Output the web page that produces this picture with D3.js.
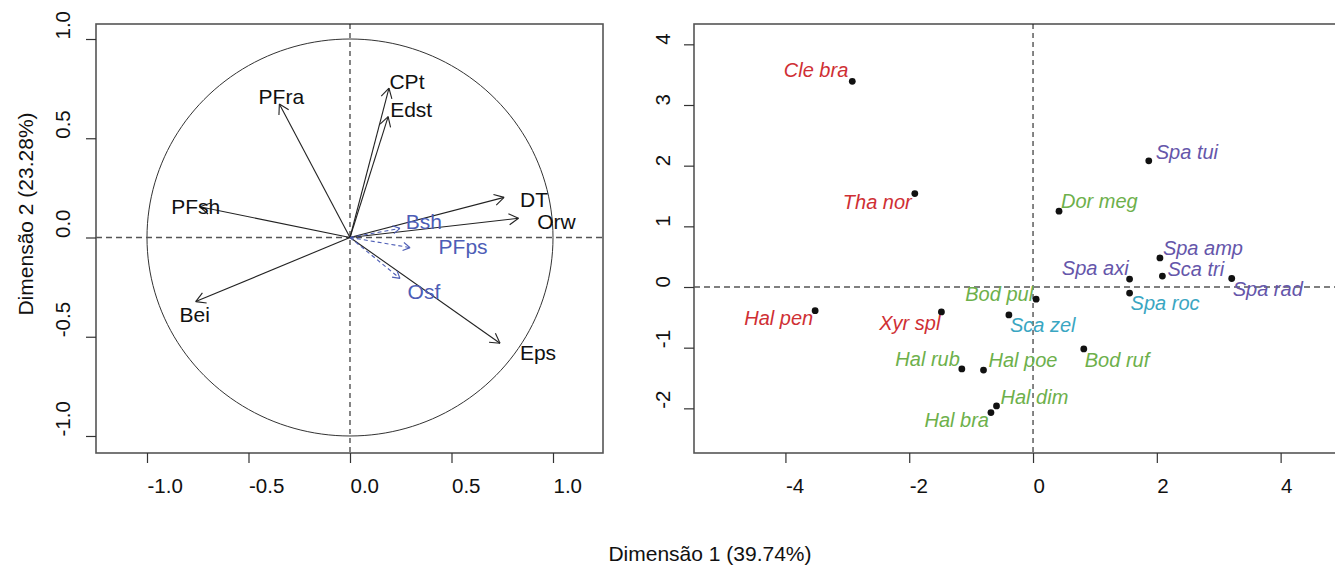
<!DOCTYPE html>
<html>
<head>
<meta charset="utf-8">
<script src="https://cdn.jsdelivr.net/npm/d3@7"></script>
<style>
  html, body { margin: 0; padding: 0; background: #fff; }
  svg { display: block; font-family: "Liberation Sans", Arial, Helvetica, sans-serif; }
</style>
</head>
<body>
<svg id="chart" width="1335" height="566"></svg>
<script>
// ---- Variables (correlation circle) ----
const varNames = ["PFra", "CPt", "Edst", "PFsh", "Bei", "DT", "Orw", "Eps", "Bsh", "PFps", "Osf"];
const varDim1  = [-0.348, 0.192, 0.188, -0.740, -0.760, 0.759, 0.830, 0.739, 0.246, 0.296, 0.246];
const varDim2  = [ 0.673, 0.752, 0.609,  0.155, -0.323, 0.202, 0.097, -0.533, 0.046, -0.051, -0.206];
const varSupplementary = [false, false, false, false, false, false, false, false, true, true, true];

// ---- Species scores ----
const species = ["Cle bra", "Tha nor", "Hal pen", "Xyr spl", "Sca zel", "Bod pul", "Dor meg", "Spa tui", "Spa amp",
                 "Sca tri", "Spa axi", "Spa roc", "Spa rad", "Bod ruf", "Hal rub", "Hal poe", "Hal dim", "Hal bra"];
const spDim1 = [-2.92, -1.91, -3.52, -1.48, -0.39, 0.05, 0.42, 1.87, 2.05, 2.09, 1.56, 1.56, 3.21, 0.82, -1.15, -0.80, -0.59, -0.68];
const spDim2 = [ 3.39,  1.54, -0.39, -0.41, -0.46, -0.20, 1.25, 2.08, 0.48, 0.18, 0.13, -0.10, 0.14, -1.02, -1.35, -1.37, -1.96, -2.07];
const spGroup = ["A", "A", "A", "A", "C", "B", "B", "D", "D", "D", "D", "C", "D", "B", "B", "B", "B", "B"];

// ---- Tick labels ----
const leftTicks  = [-1.0, -0.5, 0.0, 0.5, 1.0];
const rightXTicks = [-4, -2, 0, 2, 4];
const rightYTicks = [-2, -1, 0, 1, 2, 3, 4];

const xTitle = "Dimensão 1 (39.74%)";
const yTitle = "Dimensão 2 (23.28%)";

// ---- styling ----
const groupColor = { A: "#cf2f34", B: "#6db04b", C: "#3aa6c2", D: "#6556aa" };
const suppColor = "#4d5db6";
const boxColor = "#555";
const fontSize = 20.5;

const svg = d3.select("#chart");

// plain hyphen-minus in tick labels
const fmt1 = v => d3.format(".1f")(v).replace("\u2212", "-");
const fmt0 = v => d3.format("d")(v).replace("\u2212", "-");

function ticksAxis(g, scale, ticks, orient, pos, labelOffset, fmt) {
  // outward tick marks, labels starting at the tick position
  if (orient === "bottom") {
    const a = d3.axisBottom(scale).tickValues(ticks).tickSize(10).tickFormat(fmt).tickSizeOuter(0);
    const ax = g.append("g").attr("transform", `translate(0,${pos})`).call(a);
    ax.select(".domain").remove();
    ax.selectAll(".tick line").attr("stroke", "#333").attr("stroke-width", 1.2);
    ax.selectAll(".tick text")
      .attr("y", labelOffset).attr("dy", 0).attr("x", 0)
      .attr("text-anchor", "start")
      .attr("fill", "#111").style("font-size", fontSize + "px")
      .style("font-family", "Liberation Sans, Arial, sans-serif");
  } else {
    const a = d3.axisLeft(scale).tickValues(ticks).tickSize(10).tickFormat(fmt).tickSizeOuter(0);
    const ax = g.append("g").attr("transform", `translate(${pos},0)`).call(a);
    ax.select(".domain").remove();
    ax.selectAll(".tick line").attr("stroke", "#333").attr("stroke-width", 1.2);
    ax.selectAll(".tick text")
      .attr("x", 0).attr("y", 0).attr("dy", 0)
      .attr("text-anchor", "start")
      .attr("transform", `translate(${-labelOffset},0) rotate(-90)`)
      .attr("fill", "#111").style("font-size", fontSize + "px")
      .style("font-family", "Liberation Sans, Arial, sans-serif");
  }
}

function arrowHead(g, x0, y0, x1, y1, len, color, width) {
  const ang = Math.atan2(y1 - y0, x1 - x0);
  const spread = Math.PI / 6;
  [ang + Math.PI - spread, ang + Math.PI + spread].forEach(a => {
    g.append("line")
      .attr("x1", x1).attr("y1", y1)
      .attr("x2", x1 + len * Math.cos(a)).attr("y2", y1 + len * Math.sin(a))
      .attr("stroke", color).attr("stroke-width", width);
  });
}

// ================= Left panel: correlation circle =================
const L = { left: 96, right: 603, top: 24, bottom: 453 };
const lx = d3.scaleLinear().domain([-1.2512, 1.2463]).range([L.left, L.right]);
const ly = d3.scaleLinear().domain([-1.0857, 1.0756]).range([L.bottom, L.top]);
const gl = svg.append("g");

gl.append("rect")
  .attr("x", L.left).attr("y", L.top)
  .attr("width", L.right - L.left).attr("height", L.bottom - L.top)
  .attr("fill", "none").attr("stroke", boxColor).attr("stroke-width", 1.6);

// unit circle
const circlePts = d3.range(0, 361, 2).map(d => [Math.cos(d * Math.PI / 180), Math.sin(d * Math.PI / 180)]);
gl.append("path")
  .attr("d", d3.line().x(d => lx(d[0])).y(d => ly(d[1]))(circlePts))
  .attr("fill", "none").attr("stroke", "#333").attr("stroke-width", 1);

// reference lines
gl.append("line").attr("x1", L.left).attr("x2", L.right).attr("y1", ly(0)).attr("y2", ly(0))
  .attr("stroke", "#555").attr("stroke-width", 1.6).attr("stroke-dasharray", "6,4");
gl.append("line").attr("x1", lx(0)).attr("x2", lx(0)).attr("y1", L.top).attr("y2", L.bottom)
  .attr("stroke", "#222").attr("stroke-width", 1.1).attr("stroke-dasharray", "5,4");

ticksAxis(gl, lx, leftTicks, "bottom", L.bottom, 40, fmt1);
ticksAxis(gl, ly, leftTicks, "left", L.left, 26, fmt1);

// label nudges in pixels (centre of label relative to arrow tip)
const varLabelNudge = {
  PFra: [2, -7], CPt: [18, -7], Edst: [23, -7], PFsh: [-4, 0], Bei: [-1, 13],
  DT: [30, 2], Orw: [38, 3], Eps: [38, 9], Bsh: [24, -7], PFps: [53, -1], Osf: [24, 13]
};

varNames.forEach((name, i) => {
  const supp = varSupplementary[i];
  const color = supp ? suppColor : "#222";
  const x0 = lx(0), y0 = ly(0), x1 = lx(varDim1[i]), y1 = ly(varDim2[i]);
  const ga = gl.append("g");
  ga.append("line").attr("x1", x0).attr("y1", y0).attr("x2", x1).attr("y2", y1)
    .attr("stroke", color).attr("stroke-width", 1.1)
    .attr("stroke-dasharray", supp ? "4,3" : null);
  arrowHead(ga, x0, y0, x1, y1, supp ? 8 : 11, color, 1.1);
});
varNames.forEach((name, i) => {
  const supp = varSupplementary[i];
  const n = varLabelNudge[name];
  gl.append("text")
    .attr("x", lx(varDim1[i]) + n[0]).attr("y", ly(varDim2[i]) + n[1])
    .attr("text-anchor", "middle").attr("dominant-baseline", "central")
    .attr("fill", supp ? suppColor : "#111")
    .style("font-size", "21px")
    .text(name);
});

gl.append("text")
  .attr("transform", `translate(25,214) rotate(-90)`)
  .attr("text-anchor", "middle").attr("dominant-baseline", "central")
  .attr("fill", "#111").style("font-size", "21px")
  .text(yTitle);

// ================= Right panel: species scores =================
const R = { left: 694, right: 1345, top: 24, bottom: 453 };
const rx = d3.scaleLinear().domain([-5.477, 5.04]).range([R.left, R.right]);
const ry = d3.scaleLinear().domain([-2.736, 4.335]).range([R.bottom, R.top]);
const gr = svg.append("g");

gr.append("rect")
  .attr("x", R.left).attr("y", R.top)
  .attr("width", R.right - R.left).attr("height", R.bottom - R.top)
  .attr("fill", "none").attr("stroke", boxColor).attr("stroke-width", 1.6);

gr.append("line").attr("x1", R.left).attr("x2", R.right).attr("y1", ry(0)).attr("y2", ry(0))
  .attr("stroke", "#555").attr("stroke-width", 1.6).attr("stroke-dasharray", "6,4");
gr.append("line").attr("x1", rx(0)).attr("x2", rx(0)).attr("y1", R.top).attr("y2", R.bottom)
  .attr("stroke", "#222").attr("stroke-width", 1.1).attr("stroke-dasharray", "5,4");

ticksAxis(gr, rx, rightXTicks, "bottom", R.bottom, 40, fmt0);
ticksAxis(gr, ry, rightYTicks, "left", R.left, 24, fmt0);

// label placement: [dx, dy] from the point; dx < 0 puts the label to the left
const spLabelNudge = {
  "Cle bra": [-4, -11], "Tha nor": [-3, 8], "Hal pen": [-2, 7], "Xyr spl": [-1, 11],
  "Sca zel": [1, 10], "Bod pul": [-3, -5], "Dor meg": [2, -10], "Spa tui": [7, -9],
  "Spa amp": [3, -10], "Sca tri": [5, -7], "Spa axi": [-1, -11], "Spa roc": [1, 10],
  "Spa rad": [1, 10], "Bod ruf": [1, 11], "Hal rub": [-2, -10], "Hal poe": [5, -10],
  "Hal dim": [4, -9], "Hal bra": [-2, 7]
};

gr.selectAll("circle.sp").data(species).join("circle")
  .attr("class", "sp")
  .attr("cx", (d, i) => rx(spDim1[i])).attr("cy", (d, i) => ry(spDim2[i]))
  .attr("r", 3.4).attr("fill", "#111");

gr.selectAll("text.sp").data(species).join("text")
  .attr("class", "sp")
  .attr("x", (d, i) => rx(spDim1[i]) + spLabelNudge[d][0])
  .attr("y", (d, i) => ry(spDim2[i]) + spLabelNudge[d][1])
  .attr("text-anchor", d => spLabelNudge[d][0] < 0 ? "end" : "start")
  .attr("dominant-baseline", "central")
  .attr("fill", (d, i) => groupColor[spGroup[i]])
  .style("font-style", "italic").style("font-size", "20px")
  .text(d => d);

svg.append("text")
  .attr("x", 710).attr("y", 553)
  .attr("text-anchor", "middle").attr("dominant-baseline", "central")
  .attr("fill", "#111").style("font-size", "21px")
  .text(xTitle);
</script>
</body>
</html>
